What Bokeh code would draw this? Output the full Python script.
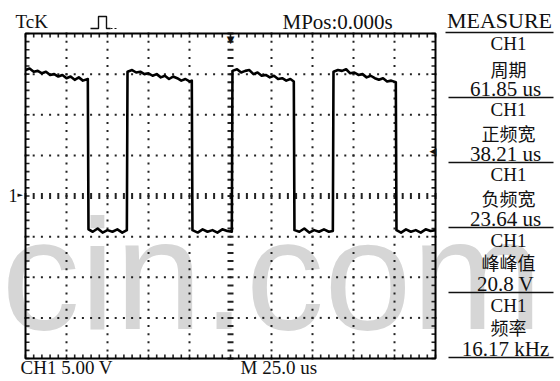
import numpy as np
from bokeh.plotting import figure
from bokeh.models import Label, Range1d
from bokeh.embed import file_html
from bokeh.resources import INLINE

# ---------------- data ----------------
# time in microseconds (M 25.0 us / div, MPos 0.000 s at centre), CH1 volts (5.00 V / div)
t_us = [
    -125, -122.5, -120, -117.5, -115, -112.5, -110, -107.5, -105, -102.5, -100, -97.5, -95, -92.5, -90, -87.0,
    -86.6, -84, -81, -78, -75, -72, -69, -66, -63.2,
    -62.8, -60, -57.5, -55, -52.5, -50, -47.5, -45, -42.5, -40, -37.5, -35, -32.5, -30, -27.5, -25, -23.6,
    -23.2, -20, -17, -14, -11, -8, -5, -2, 0.8,
    1.2, 4, 6.5, 9, 11.5, 14, 16.5, 19, 21.5, 24, 26.5, 29, 31.5, 34, 36.5, 38.6,
    39.0, 42, 45, 48, 51, 54, 57, 60, 62.4,
    62.8, 65.5, 68, 70.5, 73, 75.5, 78, 80.5, 83, 85.5, 88, 90.5, 93, 95.5, 98, 100.8,
    101.2, 104, 107, 110, 113, 116, 119, 122, 125,
]
v_ch1 = [
    15.5, 15.7, 15.3, 15.4, 15.1, 15.3, 14.9, 15.0, 14.7, 14.9, 14.5, 14.7, 14.3, 14.6, 14.2, 14.4,
    -4.1, -4.4, -4.0, -4.5, -4.2, -4.4, -4.1, -4.5, -4.2,
    15.3, 15.5, 15.2, 15.3, 15.0, 15.1, 14.8, 15.0, 14.6, 14.8, 14.4, 14.7, 14.5, 14.2, 14.4, 14.1, 14.2,
    -4.2, -4.5, -4.1, -4.4, -4.2, -4.5, -4.1, -4.3, -4.4,
    15.4, 15.6, 15.2, 15.4, 15.5, 15.0, 15.2, 14.8, 14.9, 14.6, 14.8, 14.4, 14.5, 14.2, 14.4, 14.1,
    -4.2, -4.4, -4.0, -4.5, -4.2, -4.4, -4.1, -4.4, -4.3,
    15.3, 15.5, 15.4, 15.6, 15.1, 15.2, 14.9, 15.0, 14.6, 14.8, 14.5, 14.3, 14.5, 14.1, 14.2, 14.0,
    -4.2, -4.5, -4.1, -4.4, -4.2, -4.5, -4.1, -4.3, -4.2,
]

measure_channel = ["CH1", "CH1", "CH1", "CH1", "CH1"]
measure_names = ["周期", "正频宽", "负频宽", "峰峰值", "频率"]
measure_values = ["61.85 us", "38.21 us", "23.64 us", "20.8 V", "16.17 kHz"]

header_left = "TcK"
header_mid = "MPos:0.000s"
header_right = "MEASURE"
footer_ch = "CH1 5.00 V"
footer_time = "M 25.0 us"
watermark = "cin.com"

X0, X1 = -125.0, 125.0   # 10 divisions of 25 us
Y0, Y1 = -20.0, 20.0     # 8 divisions of 5 V
div_x, div_y = 25.0, 5.0

# ---------------- figure: the frame covers the whole picture ----------------
W, H = 560, 381
GL, GR, GT, GB = 25, 435, 33, 358          # graticule box in picture pixels
sx = (GR - GL) / (X1 - X0)                 # px per us
sy = (GB - GT) / (Y1 - Y0)                 # px per V
xs0 = X0 - GL / sx
xs1 = X1 + (W - GR) / sx
ys1 = Y1 + GT / sy
ys0 = Y0 - (H - GB) / sy

p = figure(width=W, height=H, output_backend="svg", toolbar_location=None,
           x_range=Range1d(xs0, xs1), y_range=Range1d(ys0, ys1),
           x_axis_location=None, y_axis_location=None,
           min_border=0)
p.xgrid.visible = False
p.ygrid.visible = False
p.outline_line_color = None
p.background_fill_color = "white"
p.border_fill_color = "white"

def px2x(X):
    return xs0 + X / sx
def px2y(Y):
    return ys1 - Y / sy

SERIF = "Liberation Serif"
CJK = "Noto Sans CJK SC"
INK = "#111111"
GRID = "#222222"

def lab(text, X, Y, size, font=SERIF, align="left", color=INK, level="annotation", baseline="middle"):
    p.add_layout(Label(x=px2x(X), y=px2y(Y), text=text, text_font=font,
                       text_font_size=f"{size}px", text_align=align,
                       text_baseline=baseline, text_color=color, level=level))

def seg(pts, w=1.5, dash="solid"):
    p.line([px2x(a) for a, b in pts], [px2y(b) for a, b in pts],
           line_color=INK, line_width=w, line_dash=dash)

# watermark (behind everything)
lab(watermark, 1, 274, 157, font="Liberation Sans", color="#d6d6d6", level="underlay",
    baseline="alphabetic")

# ---------------- graticule ----------------
minor_x = np.arange(X0, X1 + 1e-9, div_x / 5)
minor_y = np.arange(Y0, Y1 + 1e-9, div_y / 5)
grid_x = [x for x in np.arange(X0 + div_x, X1, div_x) if abs(x) > 1e-9]
grid_y = [y for y in np.arange(Y0 + div_y, Y1, div_y) if abs(y) > 1e-9]

dx = np.repeat(grid_x, len(minor_y)); dy = np.tile(minor_y, len(grid_x))
p.rect(dx, dy, width=2, height=2, width_units="screen", height_units="screen",
       color=GRID, line_color=None)
hx = np.tile(minor_x, len(grid_y)); hy = np.repeat(grid_y, len(minor_x))
p.rect(hx, hy, width=2, height=2, width_units="screen", height_units="screen",
       color=GRID, line_color=None)
# centre lines with dash marks
p.rect(np.zeros(len(minor_y)), minor_y, width=6, height=2, width_units="screen",
       height_units="screen", color=GRID, line_color=None)
p.rect(minor_x, np.zeros(len(minor_x)), width=2, height=6, width_units="screen",
       height_units="screen", color=GRID, line_color=None)
# frame edge ticks pointing inward (4 px long)
tick = 4.0
p.rect(minor_x, np.full(len(minor_x), Y1 - tick / 2 / sy), width=1.6, height=tick / sy,
       width_units="screen", color=GRID, line_color=None)
p.rect(minor_x, np.full(len(minor_x), Y0 + tick / 2 / sy), width=1.6, height=tick / sy,
       width_units="screen", color=GRID, line_color=None)
p.rect(np.full(len(minor_y), X0 + tick / 2 / sx), minor_y, width=tick / sx, height=1.6,
       height_units="screen", color=GRID, line_color=None)
p.rect(np.full(len(minor_y), X1 - tick / 2 / sx), minor_y, width=tick / sx, height=1.6,
       height_units="screen", color=GRID, line_color=None)
# graticule border
p.rect([(X0 + X1) / 2], [(Y0 + Y1) / 2], width=X1 - X0, height=Y1 - Y0,
       fill_color=None, line_color="black", line_width=2)

# ---------------- trace ----------------
p.line(t_us, v_ch1, line_color="black", line_width=2.6, line_join="round")

# ---------------- markers ----------------
lab("▼", 230, 39, 10, font="DejaVu Sans", align="center")
lab("◀", 436, 150, 9, font="DejaVu Sans", align="right")
lab("1", 8, 195, 18)
lab("►", 17, 194, 7, font="DejaVu Sans")

# trigger icon
seg([(90, 28), (98, 28), (98, 16), (106, 16), (106, 28), (110, 28)], 1.4)
seg([(110, 28), (118, 28)], 1.2, "2 2")

# ---------------- header / footer texts ----------------
lab(header_left, 15, 21, 19)
lab(header_mid, 282, 21, 21)
lab(header_right, 499, 20, 22, align="center")
seg([(445, 32), (553, 32)], 1.6)
lab(footer_ch, 20, 367, 19)
lab(footer_time, 240, 367, 19)

# ---------------- measure panel ----------------
for i in range(len(measure_names)):
    lab(measure_channel[i], 508, 43 + 65.5 * i, 19, align="center")
    lab(measure_names[i], 508, 68 + 64.5 * i, 18, font=CJK, align="center")
    lab(measure_values[i], 505, 88 + 65 * i, 21, align="center")
    seg([(448, 97 + 65 * i), (553, 97 + 65 * i)], 1.6)

open("out.html", "w").write(file_html(p, INLINE))
